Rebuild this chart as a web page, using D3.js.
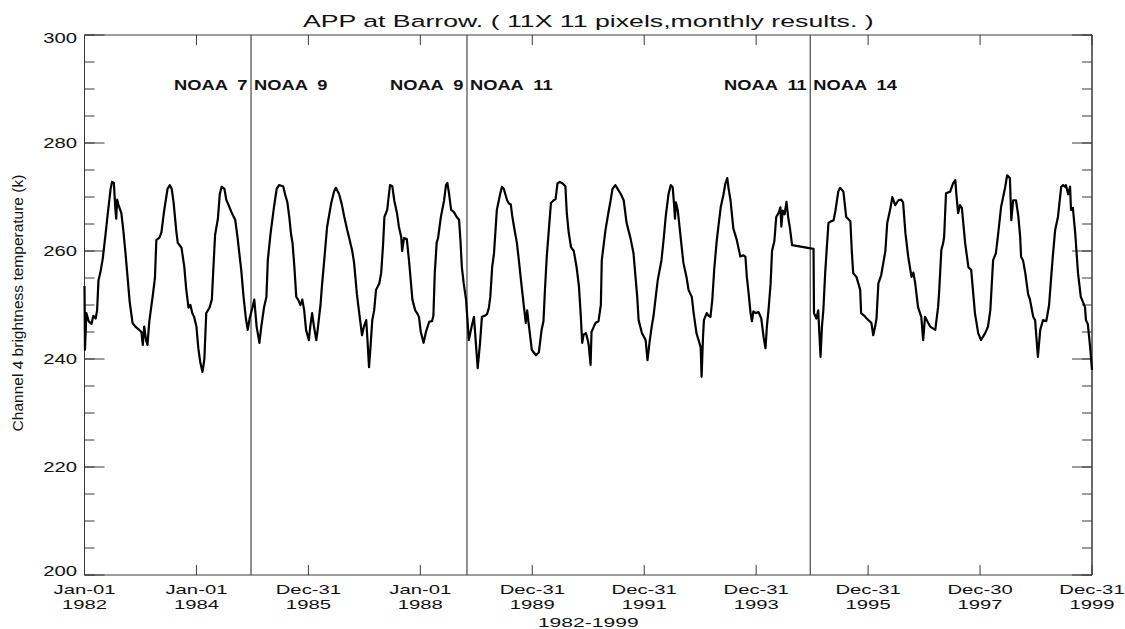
<html>
<head>
<title>APP at Barrow</title>
<script type="text/javascript" src="https://d3js.org/d3.v7.min.js"></script>
<style>
	body { margin: 0; background: #fff; }
	text { font-family: "Liberation Sans", Arial, sans-serif; fill: #111; white-space: pre; }
</style>
</head>
<body>
<div id="chart"></div>
<script>
	//Time of each sample, in months since Jan-01 1982
	var months = [
		0.0,0.1,0.4,0.9,1.5,1.9,2.4,2.7,3.0,3.4,3.9,4.5,5.0,5.6,5.9,6.3,6.6,6.8,7.0,7.3,7.9,8.3,8.8,9.2,9.7,10.3,10.9,11.6,12.2,12.5,12.8,13.2,13.5,13.9,14.6,
		15.1,15.4,16.1,16.5,17.1,17.8,18.3,18.7,19.1,19.3,19.7,20.0,20.8,21.4,21.8,22.3,22.7,23.1,23.5,24.0,24.4,24.8,25.3,25.7,26.1,26.8,27.3,
		27.7,28.0,28.6,29.0,29.4,30.0,30.4,30.9,31.5,31.9,32.3,32.8,33.2,33.6,34.1,34.6,35.0,35.4,36.0,36.4,36.9,37.5,37.9,38.5,39.0,
		39.3,39.9,40.6,41.2,41.7,42.6,43.0,43.5,43.9,44.3,44.6,45.0,45.4,45.8,46.3,46.7,47.1,47.5,48.1,48.4,48.8,49.2,49.7,50.0,50.3,50.6,50.9,
		51.4,52.0,52.9,53.5,53.9,54.6,55.2,55.7,56.3,56.7,57.4,57.8,58.4,58.9,59.5,59.9,60.4,60.7,61.0,61.3,61.7,62.1,62.5,
		63.2,63.6,64.0,64.3,64.9,65.2,65.5,66.0,66.4,67.0,67.4,67.9,68.1,68.5,69.1,69.6,70.0,70.3,70.9,71.3,71.7,72.1,72.7,73.2,73.9,74.5,74.8,
		75.1,75.5,75.8,76.4,77.1,77.5,77.8,78.1,78.6,79.2,79.8,80.3,80.6,80.9,81.3,81.8,82.4,83.0,83.5,83.9,84.3,84.8,85.2,85.8,86.3,86.7,87.0,
		87.4,87.8,88.4,89.1,89.5,89.9,90.6,91.0,91.4,91.7,92.1,92.7,93.1,93.5,94.1,94.6,94.9,95.3,95.9,96.8,97.4,98.0,98.4,98.7,
		99.1,100.0,100.6,101.0,101.4,101.9,102.5,103.1,103.4,103.8,104.3,104.9,105.5,106.0,106.4,106.7,107.0,107.5,107.9,108.1,108.5,108.7,109.2,109.6,110.2,110.7,
		110.9,111.7,112.3,112.8,113.2,113.8,114.3,115.0,115.6,116.2,117.1,117.7,118.2,118.5,118.8,119.5,120.3,120.7,121.2,121.6,122.0,122.4,
		122.9,123.7,124.2,124.6,125.2,125.7,126.1,126.4,126.6,126.8,127.2,127.8,128.4,129.1,129.5,130.2,130.6,131.2,132.1,132.3,132.6,132.8,133.4,133.8,134.2,134.6,
		135.0,135.5,135.9,136.4,137.0,137.4,137.8,138.1,138.5,139.1,139.8,140.6,141.3,141.7,142.0,142.4,142.8,143.1,143.4,143.9,144.5,145.1,145.6,146.0,146.3,146.7,147.1,
		147.4,147.9,148.3,148.8,149.2,149.4,149.7,150.1,150.5,150.9,151.2,151.7,156.3,156.4,156.9,157.3,157.8,158.1,158.4,
		158.8,159.1,159.5,160.1,160.6,161.0,161.6,162.0,162.7,163.3,164.2,164.5,164.8,165.5,166.3,166.5,167.2,167.6,168.3,168.7,169.1,169.5,169.8,
		170.2,170.8,171.7,172.1,172.8,173.2,173.8,174.5,175.1,175.5,176.0,176.6,177.3,177.7,178.1,178.7,179.4,179.8,180.2,180.7,181.3,182.4,183.0,
		183.2,183.7,184.1,184.3,184.7,185.6,186.2,186.7,186.9,187.3,187.7,188.1,188.8,189.5,190.1,190.9,191.6,192.2,193.1,193.7,194.2,
		194.8,195.4,195.9,196.5,197.4,197.8,198.4,198.7,199.1,199.7,200.2,200.6,200.8,201.2,201.7,202.3,202.7,203.4,203.8,204.4,204.9,205.5,206.2,206.8,207.2,
		207.6,208.1,208.7,209.4,209.8,210.2,210.4,210.9,211.3,211.5,211.9,212.4,213.0,213.6,214.5,214.7,215.1,215.6,216.0
	];

	//Channel 4 brightness temperature (k) at each sample
	var temps = [
		253.5,241.7,248.5,247,246.5,248,247.5,249,254.6,256,258.5,263,267,271.5,272.8,272.6,268,266,269.5,268.5,267,264,259.5,255.5,250.5,246.7,246,245.5,245,242.6,246,243.5,242.6,247,251.5,
		255,262,262.5,263.5,267.6,271.5,272.2,271.5,269,267.2,263.5,261.5,260.6,257,253,249.5,250,248.5,247.8,246,242,239.5,237.6,240,248.5,249.5,251,
		258,263,266,270.5,271.9,271.5,269.5,268.5,267.2,266.5,265.8,262.6,259.5,256.5,251.5,247.5,245.4,247.5,249.5,251,246,243,246,249.6,251.5,
		258.3,263.3,268,271.5,272.2,272,270.5,269,266.3,263,261.5,257,251.5,251,250,251,249,245.4,243.5,246,248.5,246,243.5,245.5,247.8,250,253.5,
		258.3,264.4,268.9,271,271.7,270.5,268.5,266.3,264,262.6,260,257.8,252,248.5,244.4,246,247.2,243,238.5,242,247.2,249,252.8,
		254,255.9,261,266.3,267.6,270,272.2,272,269.4,267,264.5,262.6,260,262.4,262.2,258,254,251,249,248.5,247.8,245,243,245,246.9,247,248,
		256,261.5,262.4,266.3,269.4,272.2,272.6,271,267.6,267.2,266.3,265.8,262,257,254,251,243.5,246,247.8,243,238.3,243,247.8,248,248.3,249.5,251.5,
		257,259.6,267.6,270.5,271.9,271.5,269.4,268.8,268.6,266.5,264.4,261.5,258.5,255.2,250.5,246.7,249,246,241.7,240.7,241.2,245.4,247,252.5,
		258.9,268.9,269.4,269.6,272.5,272.8,272.5,272,267,263.5,260.7,260,257,253.5,248,243,244.5,244.8,243.5,242.6,238.9,245,246,246.7,247,250,
		258.3,263.9,267,269.4,271.5,272.2,271.5,270.5,269.4,265.3,262.2,259.6,254.5,251.5,247.2,244.8,243.5,239.8,243.5,246,248,251,
		254.6,258.3,262.5,266.3,270.5,272.2,271.8,268.6,266,269,267.5,262.6,257.8,255,252.8,251.5,248.5,244.8,242.2,236.7,244,247.2,248.5,248,247.8,251,
		256.5,261.5,264.5,268.1,270.5,272.5,273.5,271.5,269.4,264.2,262.2,259,259.2,258.9,255.2,252,248.5,247,248.8,248.5,248.7,247.5,244,242,246,249.6,254,
		260,261.8,266.3,267,268.1,264.5,267.5,266.8,269.1,266,264.5,261.1,260.4,248.5,247.5,249,240.4,246,249,
		256,260,265.2,265.5,265.7,267.5,271,271.7,271,266.3,265.5,260,255.9,255.2,252.8,248.5,248,247.6,247,246.7,244.4,246,247.5,
		254,255.5,260,265.2,268,270,268.5,269.4,269.5,269,263.3,258.9,255.2,256,254,249.6,247.8,243.5,247.8,247,246,245.4,249.6,
		252,260.2,261.5,262.6,270.7,271,272.5,273.1,270.7,267,268.5,268,261.5,257,256.5,248.5,244.8,243.5,244.8,246,249,
		258.3,259.6,263.3,268.1,271.9,274,273.5,265.7,269.4,269.4,266.5,262.6,258.9,258.3,255.9,252,251,247.8,247.2,240.4,245.4,247.2,247,250,254.6,
		259,263.9,266.3,271.9,272.2,271.9,272.2,270.5,271.9,267.6,268,263.3,255.9,251.5,249.6,247.2,246.5,242.2,238
	];

	//Axis ticks
	var yMajor = [200, 220, 240, 260, 280, 300];
	var yMinor = d3.range(200, 301, 5);
	var xTickMonths = [0, 24, 48, 72, 96, 120, 144, 168, 192, 216];
	var xTickDays = ["Jan-01", "Jan-01", "Dec-31", "Jan-01", "Dec-31", "Dec-31", "Dec-31", "Dec-31", "Dec-30", "Dec-31"];
	var xTickYears = ["1982", "1984", "1985", "1988", "1989", "1991", "1993", "1995", "1997", "1999"];

	//Satellite changes
	var switchMonths = [35.7, 82.0, 155.6];
	var satBefore = ["NOAA  7", "NOAA  9", "NOAA  11"];
	var satAfter = ["NOAA  9", "NOAA  11", "NOAA  14"];

	//Canvas
	var canvasWidth = 1125;
	var canvasHeight = 629;
	var plotLeft = 84.5, plotRight = 1092, plotTop = 35, plotBottom = 575;

	var canvas = d3.select("#chart").append("svg")
		.attr("width", canvasWidth)
		.attr("height", canvasHeight);

	var x = d3.scaleLinear().domain([0, 216]).range([plotLeft, plotRight]);
	var y = d3.scaleLinear().domain([200, 300]).range([plotBottom, plotTop]);

	//Frame and ticks (all pointing inward)
	function addAxis(axis, tx, ty) {
		canvas.append("g")
			.attr("transform", "translate(" + tx + "," + ty + ")")
			.attr("color", "#3a3a3a")
			.call(axis.offset(0).tickSizeOuter(0).tickFormat(""));
	}
	addAxis(d3.axisLeft(y).tickValues(yMinor).tickSize(-10), plotLeft, 0);
	addAxis(d3.axisLeft(y).tickValues(yMajor).tickSize(-20), plotLeft, 0);
	addAxis(d3.axisRight(y).tickValues(yMinor).tickSize(-10), plotRight, 0);
	addAxis(d3.axisRight(y).tickValues(yMajor).tickSize(-20), plotRight, 0);
	addAxis(d3.axisBottom(x).tickValues(xTickMonths).tickSize(-10), 0, plotBottom);
	addAxis(d3.axisTop(x).tickValues(xTickMonths).tickSize(-10), 0, plotTop);

	//Satellite change lines
	canvas.selectAll(".sat").data(switchMonths).enter()
		.append("line")
		.attr("class", "sat")
		.attr("x1", function (d) { return x(d); })
		.attr("x2", function (d) { return x(d); })
		.attr("y1", plotTop)
		.attr("y2", plotBottom)
		.attr("stroke", "#555")
		.attr("stroke-width", 1.3);

	//Temperature line
	var line = d3.line()
		.x(function (d, i) { return x(months[i]); })
		.y(function (d) { return y(d); });

	canvas.append("path")
		.datum(temps)
		.attr("d", line)
		.attr("fill", "none")
		.attr("stroke", "#000")
		.attr("stroke-width", 2.2)
		.attr("stroke-linejoin", "round");

	//Stretched text helper (the original fonts are wide)
	function label(str, tx, ty, size, sx, anchor) {
		return canvas.append("text")
			.text(str)
			.attr("transform", "translate(" + tx + "," + ty + ") scale(" + sx + ",1)")
			.attr("text-anchor", anchor)
			.style("font-size", size + "px");
	}

	//Satellite labels
	switchMonths.forEach(function (d, i) {
		label(satBefore[i], x(d) - 3.5, 90, 15, 1.22, "end").style("font-weight", "bold");
		label(satAfter[i], x(d) + 3, 90, 15, 1.22, "start").style("font-weight", "bold");
	});

	//Y tick labels
	yMajor.forEach(function (d) {
		var base = Math.min(Math.max(y(d) + 5, 43), 576);
		label(d, 77, base, 14, 1.45, "end");
	});

	//X tick labels, day on top and year below
	xTickMonths.forEach(function (d, i) {
		label(xTickDays[i], x(d), 594, 13, 1.56, "middle");
		label(xTickYears[i], x(d), 608.8, 13, 1.56, "middle");
	});

	//Titles
	label("APP at Barrow. ( 11X 11 pixels,monthly results. )", (plotLeft + plotRight) / 2, 27, 17, 1.57, "middle");
	label("1982-1999", (plotLeft + plotRight) / 2, 626.5, 13, 1.62, "middle");

	canvas.append("text")
		.text("Channel 4 brightness temperature (k)")
		.attr("transform", "translate(23,303) rotate(-90)")
		.attr("text-anchor", "middle")
		.style("font-size", "15.5px");
</script>
</body>
</html>
